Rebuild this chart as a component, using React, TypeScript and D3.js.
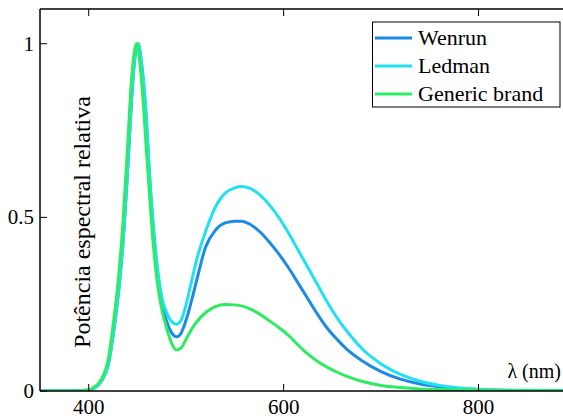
import React from "react";
import * as d3 from "d3";

const wavelengths = [350, 380, 400, 405, 410, 415, 420, 425, 430, 435, 440, 444, 447, 449, 451, 453, 456, 459, 462, 466, 470, 475, 480, 485, 490, 495, 500, 505, 510, 520, 530, 540, 550, 557, 565, 575, 585, 595, 605, 615, 625, 635, 645, 655, 665, 680, 700, 720, 740, 760, 780, 800, 850, 900];

const wenrun = [0, 0, 0.002, 0.008, 0.018, 0.038, 0.075, 0.16, 0.27, 0.42, 0.64, 0.84, 0.95, 0.99, 1.0, 0.97, 0.89, 0.78, 0.63, 0.47, 0.35, 0.26, 0.2, 0.168, 0.156, 0.168, 0.205, 0.255, 0.31, 0.415, 0.463, 0.484, 0.489, 0.489, 0.481, 0.46, 0.43, 0.395, 0.355, 0.31, 0.265, 0.22, 0.18, 0.148, 0.12, 0.088, 0.056, 0.034, 0.02, 0.012, 0.007, 0.004, 0.001, 0];

const ledman = [0, 0, 0.002, 0.008, 0.018, 0.038, 0.075, 0.16, 0.27, 0.42, 0.64, 0.84, 0.95, 0.99, 1.0, 0.97, 0.9, 0.8, 0.65, 0.49, 0.37, 0.27, 0.225, 0.2, 0.192, 0.205, 0.25, 0.31, 0.37, 0.46, 0.53, 0.57, 0.585, 0.589, 0.584, 0.566, 0.537, 0.5, 0.455, 0.405, 0.355, 0.305, 0.255, 0.21, 0.172, 0.123, 0.078, 0.048, 0.028, 0.016, 0.009, 0.005, 0.002, 0.001];

const generic = [0, 0, 0.003, 0.01, 0.022, 0.045, 0.09, 0.19, 0.31, 0.48, 0.71, 0.9, 0.98, 1.0, 0.98, 0.93, 0.83, 0.7, 0.58, 0.43, 0.32, 0.235, 0.18, 0.138, 0.118, 0.125, 0.15, 0.175, 0.196, 0.226, 0.243, 0.249, 0.248, 0.245, 0.237, 0.222, 0.203, 0.183, 0.16, 0.132, 0.106, 0.085, 0.068, 0.054, 0.042, 0.028, 0.016, 0.01, 0.006, 0.004, 0.003, 0.002, 0.001, 0];

const seriesNames = ["Wenrun", "Ledman", "Generic brand"];
const seriesColors = ["#1d8ae6", "#22e0f2", "#2eec62"];
const seriesValues = [wenrun, ledman, generic];

const xTicks = [400, 600, 800];
const yTicks = [0, 0.5, 1];
const yTickLabels = ["0", "0.5", "1"];

const W = 563;
const H = 418;
const plotLeft = 40;
const plotRight = 576;
const plotTop = 9;
const plotBottom = 391;

const FONT = "'Liberation Serif', 'DejaVu Serif', 'Times New Roman', Times, serif";

export default function App() {
  const x = d3.scaleLinear().domain([350, 900]).range([plotLeft, plotRight]);
  const y = d3.scaleLinear().domain([0, 1.1]).range([plotBottom, plotTop]);
  const line = d3
    .line<number>()
    .x((_, i) => x(wavelengths[i]))
    .y((d) => y(d))
    .curve(d3.curveMonotoneX);

  const tickLen = 7;
  const ts = (size: number) => ({ fontFamily: FONT, fontSize: size });

  return (
    <svg
      width={W}
      height={H}
      style={{ position: "absolute", left: 0, top: 0, background: "#fff" }}
    >
      <defs>
        <clipPath id="plotclip">
          <rect x={plotLeft} y={plotTop} width={plotRight - plotLeft} height={plotBottom - plotTop} />
        </clipPath>
      </defs>
      <rect x={0} y={0} width={W} height={H} fill="#fff" />

      {/* y label inside the axes */}
      <text
        transform={`translate(90, 222) rotate(-90)`}
        textAnchor="middle"
        style={ts(24)}
        fill="#000"
      >
        Potência espectral relativa
      </text>

      <g clipPath="url(#plotclip)">
        {seriesValues.map((vals, k) => (
          <path
            key={k}
            d={line(vals) || ""}
            fill="none"
            stroke={seriesColors[k]}
            strokeWidth={3}
            strokeLinejoin="round"
          />
        ))}
      </g>

      {/* frame */}
      <line x1={plotLeft} x2={plotLeft} y1={plotTop} y2={plotBottom} stroke="#000" strokeWidth={1.5} />
      <line x1={plotLeft} x2={plotRight} y1={plotBottom} y2={plotBottom} stroke="#000" strokeWidth={1.5} />
      <line x1={plotLeft} x2={plotRight} y1={plotTop} y2={plotTop} stroke="#000" strokeWidth={1.5} />
      <line x1={plotRight} x2={plotRight} y1={plotTop} y2={plotBottom} stroke="#000" strokeWidth={1.5} />

      {/* x ticks */}
      {xTicks.map((t) => (
        <g key={t}>
          <line x1={x(t)} x2={x(t)} y1={plotBottom} y2={plotBottom - tickLen} stroke="#000" strokeWidth={1} />
          <line x1={x(t)} x2={x(t)} y1={plotTop} y2={plotTop + tickLen} stroke="#000" strokeWidth={1} />
          <text x={x(t)} y={plotBottom + 23} textAnchor="middle" style={ts(21)} fill="#000">
            {t}
          </text>
        </g>
      ))}

      {/* y ticks */}
      {yTicks.map((t, i) => (
        <g key={t}>
          <line x1={plotLeft} x2={plotLeft + tickLen} y1={y(t)} y2={y(t)} stroke="#000" strokeWidth={1} />
          <line x1={plotRight} x2={plotRight - tickLen} y1={y(t)} y2={y(t)} stroke="#000" strokeWidth={1} />
          <text x={34} y={y(t) + 7} textAnchor="end" style={ts(21)} fill="#000">
            {yTickLabels[i]}
          </text>
        </g>
      ))}

      {/* x label */}
      <text x={561} y={378} textAnchor="end" style={ts(20)} fill="#000">
        λ (nm)
      </text>

      {/* legend */}
      <rect x={372.5} y={22} width={187.5} height={85} fill="#fff" stroke="#000" strokeWidth={1} />
      {seriesNames.map((name, k) => {
        const ly = 38 + k * 28;
        return (
          <g key={name}>
            <line x1={375} x2={412} y1={ly} y2={ly} stroke={seriesColors[k]} strokeWidth={3} />
            <text x={418} y={ly + 7} style={ts(22)} fill="#000">
              {name}
            </text>
          </g>
        );
      })}
    </svg>
  );
}
